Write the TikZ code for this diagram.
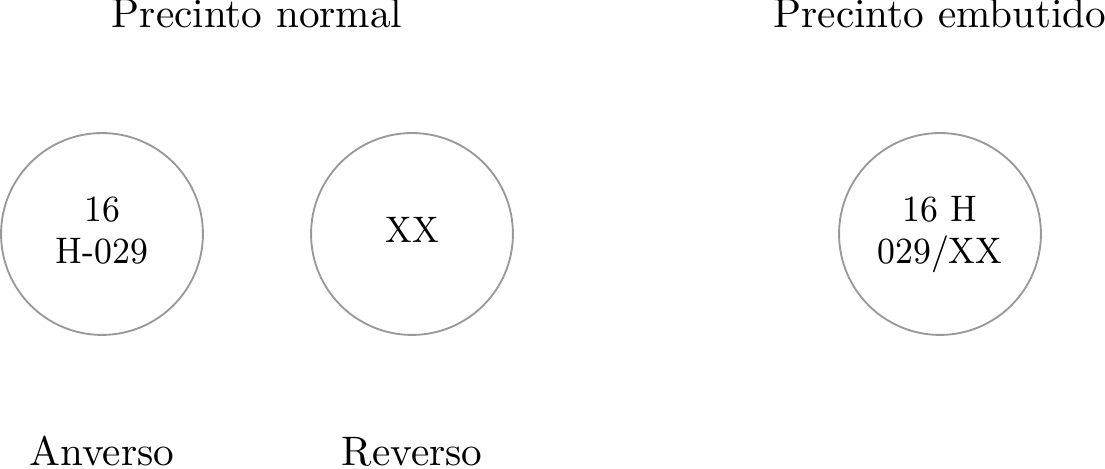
\documentclass[tikz,border=0pt]{standalone}
\newcommand{\sealtext}[1]{\scalebox{1.02}[1.12]{\fontsize{8}{9.2}\selectfont\begin{tabular}{@{}c@{}}#1\end{tabular}}}
\begin{document}
\begin{tikzpicture}[x=0.2427pt,y=-0.2427pt,
  seal/.style={circle,draw=black!40,line width=0.45pt,minimum size=49pt,inner sep=0pt,align=center},
  lbl/.style={inner sep=0pt,anchor=base}]
\useasboundingbox (0,0) rectangle (1105,469);
\node[seal] (anv) at (102,234) {\sealtext{16\\H-029}};
\node[seal] (rev) at (412,234) {\sealtext{XX}};
\node[seal] (emb) at (940,234) {\sealtext{16 H\\029/XX}};
\node[lbl] (tn) at (257,28) {Precinto normal};
\node[lbl] (te) at (940,28) {Precinto embutido};
\node[lbl] (la) at (102,466) {Anverso};
\node[lbl] (lr) at (412,466) {Reverso};
\end{tikzpicture}
\end{document}
